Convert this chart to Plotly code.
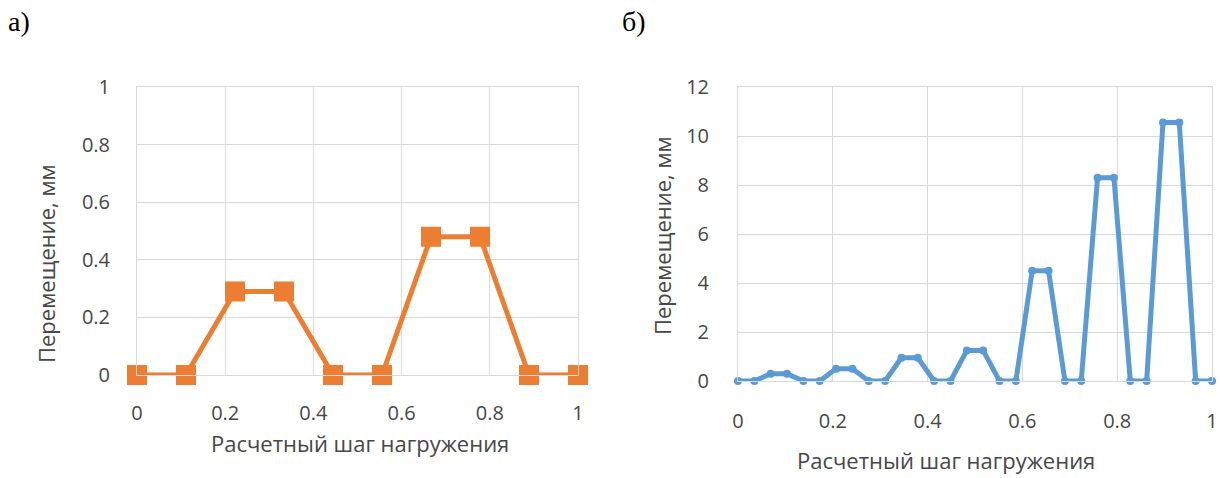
import plotly.graph_objects as go

# Panel (а): load-step displacement, 10 steps
steps_a = [0, 0.1111, 0.2222, 0.3333, 0.4444, 0.5556, 0.6667, 0.7778, 0.8889, 1.0]
disp_a = [0, 0, 0.29, 0.29, 0, 0, 0.48, 0.48, 0, 0]

# Panel (б): load-step displacement, 30 steps
steps_b = [0, 0.0345, 0.0690, 0.1034, 0.1379, 0.1724, 0.2069, 0.2414, 0.2759, 0.3103,
           0.3448, 0.3793, 0.4138, 0.4483, 0.4828, 0.5172, 0.5517, 0.5862, 0.6207, 0.6552,
           0.6897, 0.7241, 0.7586, 0.7931, 0.8276, 0.8621, 0.8966, 0.9310, 0.9655, 1.0]
disp_b = [0, 0, 0.3, 0.3, 0, 0, 0.5, 0.5, 0, 0,
          0.95, 0.95, 0, 0, 1.25, 1.25, 0, 0, 4.5, 4.5,
          0, 0, 8.3, 8.3, 0, 0, 10.55, 10.55, 0, 0]

x_ticks = [0, 0.2, 0.4, 0.6, 0.8, 1]
y_ticks_a = [0, 0.2, 0.4, 0.6, 0.8, 1]
y_ticks_b = [0, 2, 4, 6, 8, 10, 12]

x_title = "Расчетный шаг нагружения"
y_title = "Перемещение, мм"

W, H = 1220, 478
FONT = "Open Sans"
TEXT_COLOR = "#474747"
GRID = "#d9d9d9"


def px_x(p):
    return p / W


def px_y(p):
    return 1 - p / H


fig = go.Figure()

fig.add_trace(go.Scatter(
    x=steps_a, y=disp_a, mode="lines+markers", xaxis="x", yaxis="y",
    line=dict(color="#ED7D31", width=5),
    marker=dict(symbol="square", size=20, color="#ED7D31"),
    cliponaxis=False, showlegend=False,
))

fig.add_trace(go.Scatter(
    x=steps_b, y=disp_b, mode="lines+markers", xaxis="x2", yaxis="y2",
    line=dict(color="#5B9BD5", width=5),
    marker=dict(symbol="circle", size=8, color="#5B9BD5"),
    cliponaxis=False, showlegend=False,
))

axis_common = dict(
    showgrid=True, gridcolor=GRID, gridwidth=1, automargin=False,
    zeroline=False, showline=True, linecolor=GRID, linewidth=1, mirror=True,
    ticks="", tickfont=dict(family=FONT, size=20, color=TEXT_COLOR),
)

fig.update_layout(
    width=W, height=H, autosize=False,
    margin=dict(l=0, r=0, t=0, b=0, pad=0, autoexpand=False),
    paper_bgcolor="white", plot_bgcolor="white",
    xaxis=dict(domain=[px_x(137), px_x(578)], range=[0, 1], tickvals=x_ticks,
               ticktext=[f"{v:g}" for v in x_ticks], anchor="y",
               ticklabelstandoff=20, **axis_common),
    yaxis=dict(domain=[px_y(375), px_y(87)], range=[0, 1], tickvals=y_ticks_a,
               ticktext=[f"{v:g}" for v in y_ticks_a], anchor="x",
               ticklabelstandoff=22, **axis_common),
    xaxis2=dict(domain=[px_x(738), px_x(1212)], range=[0, 1], tickvals=x_ticks,
                ticktext=[f"{v:g}" for v in x_ticks], anchor="y2",
                ticklabelstandoff=22, **axis_common),
    yaxis2=dict(domain=[px_y(381), px_y(87)], range=[0, 12], tickvals=y_ticks_b,
                ticktext=[f"{v:g}" for v in y_ticks_b], anchor="x2",
                ticklabelstandoff=24, **axis_common),
)

title_font = dict(family=FONT, size=22, color=TEXT_COLOR)
panel_font = dict(family="Liberation Serif", size=28, color="black")

annotations = [
    dict(text="а)", x=px_x(6), y=px_y(22), xanchor="left", yanchor="middle",
         font=panel_font),
    dict(text="б)", x=px_x(620), y=px_y(22), xanchor="left", yanchor="middle",
         font=panel_font),
    dict(text=x_title, x=px_x(360), y=px_y(443), xanchor="center", yanchor="middle",
         font=title_font),
    dict(text=x_title, x=px_x(946), y=px_y(460), xanchor="center", yanchor="middle",
         font=title_font),
    dict(text=y_title, x=px_x(46), y=px_y(264), xanchor="center", yanchor="middle",
         textangle=-90, font=title_font),
    dict(text=y_title, x=px_x(662), y=px_y(236), xanchor="center", yanchor="middle",
         textangle=-90, font=title_font),
]
for a in annotations:
    a.update(xref="paper", yref="paper", showarrow=False)
fig.update_layout(annotations=annotations)

fig.write_html("out.html")
